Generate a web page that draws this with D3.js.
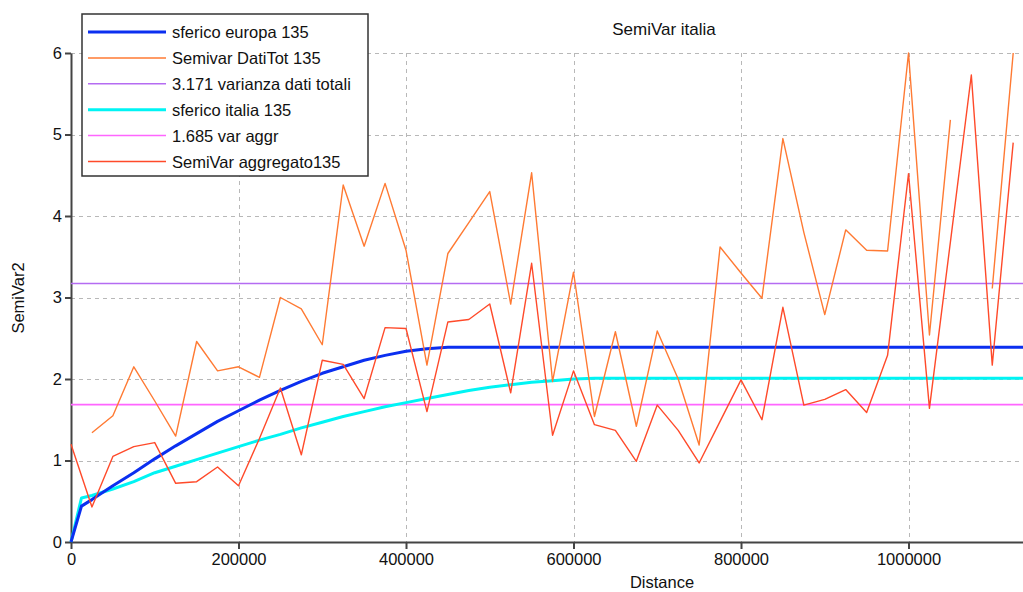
<!DOCTYPE html>
<html>
<head>
<meta charset="utf-8">
<script src="https://cdn.jsdelivr.net/npm/d3@7"></script>
<style>
  html, body { margin: 0; padding: 0; background: #fff; }
  svg { display: block; font-family: "Liberation Sans", Arial, sans-serif; }
</style>
</head>
<body>
<svg id="chart" width="1023" height="592"></svg>
<script>
// ---- data ----
const lagDistances = [0, 25000, 50000, 75000, 100000, 125000, 150000, 175000, 200000, 225000,
  250000, 275000, 300000, 325000, 350000, 375000, 400000, 425000, 450000, 475000,
  500000, 525000, 550000, 575000, 600000, 625000, 650000, 675000, 700000, 725000,
  750000, 775000, 800000, 825000, 850000, 875000, 900000, 925000, 950000, 975000,
  1000000, 1025000, 1050000, 1075000, 1100000, 1125000];

const semivarDatiTot = [null, 1.34, 1.55, 2.15, 1.73, 1.30, 2.46, 2.10, 2.15, 2.02,
  3.00, 2.86, 2.42, 4.38, 3.63, 4.40, 3.58, 2.17, 3.54, 3.92,
  4.30, 2.92, 4.53, 1.97, 3.31, 1.54, 2.58, 1.42, 2.59, 2.00,
  1.19, 3.62, 3.30, 2.99, 4.95, 3.80, 2.79, 3.83, 3.58, 3.57,
  6.00, 2.54, 5.18, null, 3.11, 6.00];

const semivarAggregato = [1.20, 0.43, 1.05, 1.17, 1.22, 0.72, 0.74, 0.92, 0.69, 1.27,
  1.89, 1.07, 2.23, 2.18, 1.76, 2.63, 2.62, 1.60, 2.70, 2.73,
  2.92, 1.83, 3.42, 1.31, 2.10, 1.44, 1.37, 0.99, 1.68, 1.37,
  0.97, 1.48, 1.99, 1.50, 2.88, 1.68, 1.75, 1.87, 1.59, 2.29,
  4.52, 1.64, 3.68, 5.73, 2.17, 4.90];

const europaDist = [0, 12500, 25000, 50000, 75000, 100000, 125000, 150000, 175000, 200000,
  225000, 250000, 275000, 300000, 325000, 350000, 375000, 400000, 425000, 450000, 1136700];
const europaVal = [0, 0.44, 0.52, 0.69, 0.85, 1.02, 1.18, 1.33, 1.48, 1.61,
  1.74, 1.86, 1.97, 2.07, 2.15, 2.23, 2.29, 2.34, 2.37, 2.39, 2.39];

const italiaDist = [0, 12500, 25000, 50000, 75000, 100000, 125000, 150000, 175000, 200000,
  225000, 250000, 275000, 300000, 325000, 350000, 375000, 400000, 425000, 450000,
  475000, 500000, 525000, 550000, 575000, 600000, 625000, 1136700];
const italiaVal = [0, 0.54, 0.57, 0.65, 0.74, 0.85, 0.93, 1.01, 1.09, 1.17,
  1.25, 1.32, 1.40, 1.47, 1.54, 1.60, 1.66, 1.71, 1.76, 1.81,
  1.86, 1.90, 1.93, 1.96, 1.98, 2.00, 2.01, 2.01];

const varDatiTotali = 3.171;
const varAggr = 1.685;

const xTicks = [0, 200000, 400000, 600000, 800000, 1000000];
const yTicks = [0, 1, 2, 3, 4, 5, 6];

const legendLabels = ["sferico europa 135", "Semivar DatiTot 135", "3.171 varianza dati totali",
  "sferico italia 135", "1.685 var aggr", "SemiVar aggregato135"];
const legendColors = ["#0b2ff0", "#ff7a33", "#b56cf2", "#00f4f4", "#ff66ff", "#ff4a2a"];
const legendWidths = [3, 1.5, 1.5, 3, 1.5, 1.5];

// ---- chart ----
const svg = d3.select("#chart");
const x = d3.scaleLinear().domain([0, 1136700]).range([71, 1023]);
const y = d3.scaleLinear().domain([0, 6]).range([542, 53]);

// grid
const grid = svg.append("g").attr("stroke", "#b8b8b8").attr("stroke-width", 1).attr("stroke-dasharray", "4,4");
grid.selectAll("line.h").data(yTicks.filter(d => d > 0)).join("line")
  .attr("x1", x.range()[0]).attr("x2", x.range()[1])
  .attr("y1", d => Math.round(y(d)) + 0.5).attr("y2", d => Math.round(y(d)) + 0.5);
grid.selectAll("line.v").data(xTicks.filter(d => d > 0)).join("line")
  .attr("y1", y(6)).attr("y2", y(0))
  .attr("x1", d => Math.round(x(d)) + 0.5).attr("x2", d => Math.round(x(d)) + 0.5);

// axes
const yAxis = svg.append("g").attr("transform", `translate(${x(0)},0)`)
  .call(d3.axisLeft(y).tickValues(yTicks).tickFormat(d3.format("d")).tickSize(6).tickSizeOuter(0).tickPadding(3));
const xAxis = svg.append("g").attr("transform", `translate(0,${y(0)})`)
  .call(d3.axisBottom(x).tickValues(xTicks).tickFormat(d3.format("d")).tickSize(7).tickSizeOuter(0).tickPadding(4));
[yAxis, xAxis].forEach(a => {
  a.selectAll("path.domain").attr("stroke", "#444").attr("stroke-width", 2);
  a.selectAll(".tick line").attr("stroke", "#444").attr("stroke-width", 2);
  a.selectAll(".tick text").attr("fill", "#111").style("font-size", "16.5px")
    .style("font-family", "'Liberation Sans', Arial, sans-serif");
});

const line = d3.line().defined(d => d[1] !== null).x(d => x(d[0])).y(d => y(d[1]));

const europaData = europaDist.map((d, i) => [d, europaVal[i]]);
const italiaData = italiaDist.map((d, i) => [d, italiaVal[i]]);
const datiTotData = lagDistances.map((d, i) => [d, semivarDatiTot[i]]);
const aggrData = lagDistances.map((d, i) => [d, semivarAggregato[i]]);

const plot = svg.append("g").attr("fill", "none").attr("stroke-linejoin", "round");

// horizontal reference lines
plot.append("line").attr("x1", x(0)).attr("x2", x.range()[1])
  .attr("y1", y(varDatiTotali)).attr("y2", y(varDatiTotali))
  .attr("stroke", legendColors[2]).attr("stroke-width", 1.6);
plot.append("line").attr("x1", x(0)).attr("x2", x.range()[1])
  .attr("y1", y(varAggr)).attr("y2", y(varAggr))
  .attr("stroke", legendColors[4]).attr("stroke-width", 1.6);

plot.append("path").datum(italiaData).attr("d", line).attr("stroke", legendColors[3]).attr("stroke-width", 3);
plot.append("path").datum(europaData).attr("d", line).attr("stroke", legendColors[0]).attr("stroke-width", 3);
plot.append("path").datum(datiTotData).attr("d", line).attr("stroke", legendColors[1]).attr("stroke-width", 1.4);
plot.append("path").datum(aggrData).attr("d", line).attr("stroke", legendColors[5]).attr("stroke-width", 1.4);

// title and axis labels
svg.append("text").attr("x", 664).attr("y", 35).attr("text-anchor", "middle")
  .style("font-size", "17px").attr("fill", "#111").text("SemiVar italia");
svg.append("text").attr("x", 662).attr("y", 588).attr("text-anchor", "middle")
  .style("font-size", "16.5px").attr("fill", "#111").text("Distance");
svg.append("text").attr("transform", "translate(24,298) rotate(-90)").attr("text-anchor", "middle")
  .style("font-size", "16.5px").attr("fill", "#111").text("SemiVar2");

// legend
const lg = svg.append("g");
lg.append("rect").attr("x", 82).attr("y", 14).attr("width", 286).attr("height", 162)
  .attr("fill", "#fff").attr("stroke", "#333").attr("stroke-width", 1.5);
legendLabels.forEach((lab, i) => {
  const yy = 32 + i * 25.9;
  lg.append("line").attr("x1", 88).attr("x2", 166).attr("y1", yy).attr("y2", yy)
    .attr("stroke", legendColors[i]).attr("stroke-width", legendWidths[i]);
  lg.append("text").attr("x", 172).attr("y", yy + 6).style("font-size", "16.5px").attr("fill", "#111").text(lab);
});
</script>
</body>
</html>
